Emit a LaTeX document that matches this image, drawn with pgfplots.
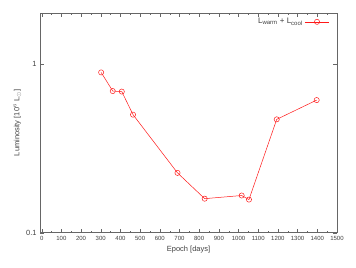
\documentclass[border=0pt]{standalone}
\usepackage{pgfplots}
\pgfplotsset{compat=1.18}
\usepackage{fontspec}
\setmainfont{Liberation Sans}
\begin{document}
\begin{tikzpicture}[x=1bp,y=1bp]
\begin{semilogyaxis}[
  scale only axis,
  width=296bp, height=219bp,
  xmin=-8, xmax=1500,
  ymin=0.1, ymax=2,
  xtick={0,100,...,1500},
  minor x tick num=1,
  ytick={0.1,1},
  yticklabels={0.1,1},
  log basis y=10,
  tick align=inside,
  axis line style={gray!80!black},
  tick style={gray!80!black},
  major tick length=4bp,
  minor tick length=2bp,
  /pgf/number format/assume math mode=true,
  /pgf/number format/1000 sep={},
  xticklabel style={font=\fontsize{6}{7}\selectfont, text=black!75},
  yticklabel style={font=\fontsize{7.5}{8}\selectfont, text=black!75},
  xlabel={Epoch [days]},
  ylabel={Luminosity [10$^{6}$ L$_\odot$]},
  label style={font=\fontsize{7.5}{8}\selectfont, text=black!75},
  xlabel style={yshift=1bp},
  ylabel style={yshift=-2bp},
  legend style={draw=none, fill=none, at={(0.985,0.995)}, anchor=north east,
    font=\fontsize{8}{9}\selectfont, text=black!75},
  legend image code/.code={\draw[mark repeat=2,mark phase=2,#1] plot coordinates {(0bp,0bp) (12bp,0bp) (24bp,0bp)};},
  legend plot pos=right,
  legend cell align=right,
]
\addplot[red!90!white, mark=o, mark size=2.6bp, line width=0.5bp] coordinates {
(302,0.89) (361,0.69) (407,0.685) (464,0.50) (690,0.226) (828,0.159)
(1016,0.166) (1053,0.157) (1194,0.469) (1397,0.61)
};
\addlegendentry{L$_{\mathrm{warm}}$ + L$_{\mathrm{cool}}$}
\end{semilogyaxis}
\path (current axis.south west) ++(-40,-35) coordinate (a);
\path (current axis.north east) ++(19,13) coordinate (b);
\useasboundingbox (a) rectangle (b);
\end{tikzpicture}
\end{document}
